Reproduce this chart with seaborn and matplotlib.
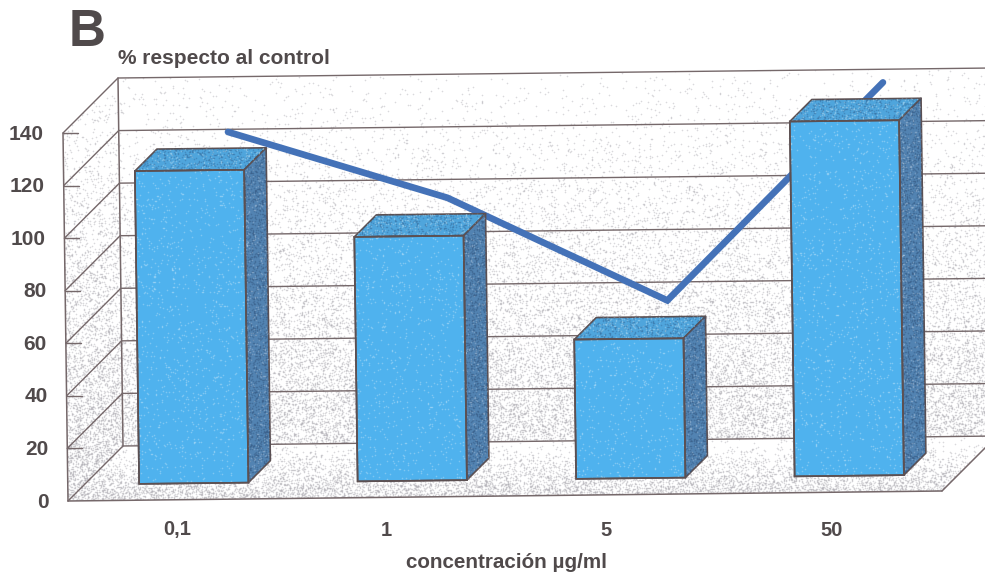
import numpy as np
import pandas as pd
import matplotlib
matplotlib.use("Agg")
import matplotlib.pyplot as plt
from matplotlib.colors import to_rgb
from matplotlib.patches import Polygon
from matplotlib.transforms import Affine2D
import seaborn as sns

# Chart values
concentrations = ["0,1", "1", "5", "50"]
percent_of_control = [119, 93, 53, 135]
value_ticks = [0, 20, 40, 60, 80, 100, 120, 140]

TEXT = "#504a4b"
EDGE = "#5c5052"
GRID = "#75686a"
FRONT = "#4fb2ee"
TOP = "#4fa5dc"
SIDE = "#5283b2"
LINE = "#4472b8"

W, H = 985, 577
# Oblique projection of the 3D box
X_SPAN, X_RISE = 874, 10
V_LEAN, V_SCALE = 5 / 140, 368 / 140
ORIGIN = (68, 501)
BOX_DEPTH = 55
BAR_FRONT, BAR_DEPTH = 16.5, 22
BAR_WIDTH = 0.5

sns.set_theme(style="white")
plt.rcParams["font.family"] = ["Liberation Sans", "DejaVu Sans"]

fig = plt.figure(figsize=(W / 100, H / 100), dpi=100)
ax = fig.add_axes([0, 0, 1, 1])


def plane(depth):
    """Category/value coordinates onto a plane set back by depth."""
    return Affine2D.from_values(
        X_SPAN / 4, -X_RISE / 4, -V_LEAN, -V_SCALE,
        ORIGIN[0] + X_SPAN / 8 + depth, ORIGIN[1] - X_RISE / 8 - depth,
    )


def pt(cat, value, depth=0):
    return plane(depth).transform((cat, value))


def stipple(seed):
    yy, xx = np.mgrid[0:H, 0:W]
    v = np.sin(xx * 12.9898 + yy * 78.233 + seed) * 43758.5453
    return v - np.floor(v)


def soften(mask):
    """Small kernel so the printed dots bleed into their neighbours."""
    out = mask * 0.5
    for axis in (0, 1):
        out = out + 0.125 * (np.roll(mask, 1, axis) + np.roll(mask, -1, axis))
    return out


def grain(clip, color, density, seed, zorder, strength=0.8):
    """Printed-dot texture, clipped to one face of the chart."""
    rgba = np.zeros((H, W, 4))
    rgba[..., :3] = to_rgb(color)
    rgba[..., 3] = soften((stipple(seed) < density).astype(float)) * strength
    im = ax.imshow(rgba, extent=(0, W, H, 0), interpolation="nearest",
                   aspect="auto", zorder=zorder)
    im.set_clip_path(clip)


def face(corners, color, zorder, edge=EDGE, lw=1.2):
    poly = Polygon(corners, closed=True, facecolor=color, edgecolor=edge,
                   linewidth=lw, zorder=zorder, joinstyle="round")
    ax.add_patch(poly)
    return poly


rows = np.arange(H)[:, None] * np.ones((1, W))
wall_density = 0.01 + 0.24 * np.clip((rows - 75) / 370, 0, 1) ** 1.6
side_density = 0.02 + 0.32 * np.clip((rows - 90) / 410, 0, 1) ** 1.3
floor_density = 0.02 + 0.33 * np.clip((rows - 445) / 55, 0, 1)

left, right = -0.5, 3.5
top = value_ticks[-1]

# Walls and floor
back = face([pt(left, 0, BOX_DEPTH), pt(right, 0, BOX_DEPTH),
             pt(right, top, BOX_DEPTH), pt(left, top, BOX_DEPTH)], "white", 0, "none")
side = face([pt(left, 0), pt(left, top), pt(left, top, BOX_DEPTH), pt(left, 0, BOX_DEPTH)],
            "white", 0, "none")
floor = face([pt(left, 0), pt(right, 0), pt(right, 0, BOX_DEPTH), pt(left, 0, BOX_DEPTH)],
             "white", 0, "none")
grain(back, "#85828c", wall_density, 1.3, 0.2, strength=0.6)
grain(side, "#85828c", side_density, 2.7, 0.2, strength=0.6)
grain(floor, "#85828c", floor_density, 4.1, 0.2, strength=0.6)

# Gridlines, the wall diagonals and the short ticks
for v in value_ticks:
    p0, p1, p2 = pt(left, v), pt(left, v, BOX_DEPTH), pt(right, v, BOX_DEPTH)
    ax.plot([p0[0], p1[0], p2[0]], [p0[1], p1[1], p2[1]], color=GRID, lw=1.0, zorder=1)
    if v > 0:
        ax.plot([p0[0], p0[0] + 15], [p0[1], p0[1]], color=GRID, lw=1.0, zorder=1)
    ax.text(p0[0] - 19, p0[1] + 1, str(v), ha="right", va="center", fontsize=15,
            fontweight="bold", color=TEXT)

for a, b in [((left, 0, 0), (left, top, 0)),
             ((left, 0, BOX_DEPTH), (left, top, BOX_DEPTH)),
             ((left, 0, 0), (right, 0, 0)),
             ((right, 0, 0), (right, 0, BOX_DEPTH))]:
    pa, pb = pt(*a), pt(*b)
    ax.plot([pa[0], pb[0]], [pa[1], pb[1]], color=GRID, lw=1.1, zorder=1)

table = pd.DataFrame({"pos": np.arange(len(concentrations)),
                      "pct": percent_of_control})

# Trend line, carried on the back wall behind the bars
sns.lineplot(data=table, x="pos", y="pct", color=LINE, linewidth=4.8, ax=ax,
             transform=plane(BOX_DEPTH) + ax.transData, zorder=2, estimator=None,
             sort=False, solid_capstyle="round", solid_joinstyle="miter")

# Front faces of the columns
sns.barplot(data=table, x="pos", y="pct", native_scale=True, width=BAR_WIDTH,
            color=FRONT, saturation=1, edgecolor=EDGE, linewidth=1.2, ax=ax,
            transform=plane(BAR_FRONT) + ax.transData, zorder=5)
bars = [p for p in ax.patches if p.get_zorder() == 5]

# Top and side faces, each built from the column's own value
f, d = BAR_FRONT, BAR_FRONT + BAR_DEPTH
for i, (bar, v) in enumerate(zip(bars, percent_of_control)):
    l, r = i - BAR_WIDTH / 2, i + BAR_WIDTH / 2
    top_face = face([pt(l, v, f), pt(r, v, f), pt(r, v, d), pt(l, v, d)], TOP, 4)
    side_face = face([pt(r, 0, f), pt(r, v, f), pt(r, v, d), pt(r, 0, d)], SIDE, 4)
    grain(top_face, "#2f5f8e", 0.14, 5.1 + i, 4.2, strength=0.7)
    grain(top_face, "#b4dcf2", 0.08, 6.3 + i, 4.3)
    grain(side_face, "#2f4f78", 0.20, 7.7 + i, 4.2, strength=0.7)
    grain(side_face, "#a5bed8", 0.06, 8.9 + i, 4.3)
    grain(bar, "#d6ecfa", 0.03, 9.9 + i, 5.2, strength=0.7)
    outline = Polygon(bar.get_path().vertices, closed=True, fill=False, edgecolor=EDGE,
                      linewidth=1.2, zorder=5.4,
                      transform=bar.get_patch_transform() + bar.get_data_transform())
    ax.add_patch(outline)

# Category labels
label_x = [177, 386, 606, 832]
for x, lab in zip(label_x, concentrations):
    ax.text(x, 530, lab, ha="center", va="center", fontsize=14.5, fontweight="bold",
            color=TEXT)

ax.text(69, 33, "B", ha="left", va="center", fontsize=37, fontweight="bold", color=TEXT)
ax.text(118, 59, "% respecto al control", ha="left", va="center", fontsize=15,
        fontweight="bold", color=TEXT)
ax.text(507, 563, "concentración µg/ml", ha="center", va="center", fontsize=14.9,
        fontweight="bold", color=TEXT)

ax.set_xlim(0, W)
ax.set_ylim(H, 0)
ax.set_xlabel("")
ax.set_ylabel("")
ax.set_axis_off()

fig.savefig("out.png", dpi=100)
